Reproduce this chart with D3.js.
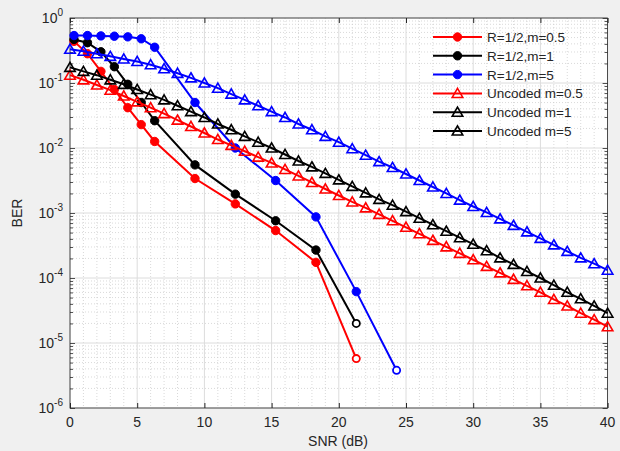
<!DOCTYPE html>
<html><head><meta charset="utf-8">
<script src="https://cdn.jsdelivr.net/npm/d3@7"></script>
<style>
body{margin:0;background:#f0f0f0;}
text{font-family:"Liberation Sans",Arial,Helvetica,sans-serif;}
</style>
</head><body>
<svg id="c" width="620" height="451"></svg>
<script>
// ---------- DATA ----------
const snrCoded = [0.3, 1.3, 2.3, 3.3, 4.3, 5.3, 6.3, 9.3, 12.3, 15.3, 18.3, 21.3];
const snrCodedM5 = [0.3, 1.3, 2.3, 3.3, 4.3, 5.3, 6.3, 9.3, 12.3, 15.3, 18.3, 21.3, 24.3];
const berCodedM05 = [4.37e-1, 2.82e-1, 1.51e-1, 7.94e-2, 4.17e-2, 2.29e-2, 1.26e-2, 3.39e-3, 1.38e-3, 5.37e-4, 1.74e-4, 5.75e-6];
const berCodedM1  = [4.68e-1, 4.17e-1, 3.02e-1, 1.78e-1, 9.55e-2, 5.01e-2, 2.63e-2, 5.50e-3, 1.95e-3, 7.59e-4, 2.69e-4, 2.00e-5];
const berCodedM5  = [5.37e-1, 5.37e-1, 5.30e-1, 5.25e-1, 5.13e-1, 4.79e-1, 3.55e-1, 5.01e-2, 1.00e-2, 3.16e-3, 8.71e-4, 6.17e-5, 3.80e-6];

const snrUncoded = [0,1,2,3,4,5,6,7,8,9,10,11,12,13,14,15,16,17,18,19,20,21,22,23,24,25,26,27,28,29,30,31,32,33,34,35,36,37,38,39,40];
const berUncM05 = [1.32e-1,1.12e-1,9.33e-2,7.76e-2,6.31e-2,5.13e-2,4.17e-2,3.39e-2,2.69e-2,2.14e-2,1.70e-2,1.35e-2,1.10e-2,8.91e-3,7.24e-3,5.89e-3,4.68e-3,3.72e-3,2.95e-3,2.34e-3,1.86e-3,1.48e-3,1.20e-3,9.55e-4,7.59e-4,6.03e-4,4.79e-4,3.80e-4,3.02e-4,2.40e-4,1.91e-4,1.51e-4,1.20e-4,9.55e-5,7.59e-5,6.03e-5,4.68e-5,3.72e-5,2.88e-5,2.29e-5,1.78e-5];
const berUncM1 = [1.74e-1,1.51e-1,1.32e-1,1.12e-1,9.55e-2,7.94e-2,6.61e-2,5.50e-2,4.47e-2,3.63e-2,2.95e-2,2.34e-2,1.91e-2,1.51e-2,1.23e-2,1.00e-2,7.94e-3,6.31e-3,5.13e-3,4.07e-3,3.24e-3,2.57e-3,2.04e-3,1.62e-3,1.32e-3,1.05e-3,8.32e-4,6.61e-4,5.25e-4,4.17e-4,3.31e-4,2.63e-4,2.04e-4,1.62e-4,1.26e-4,1.00e-4,7.76e-5,6.03e-5,4.79e-5,3.72e-5,2.88e-5];
const berUncM5 = [3.31e-1,3.09e-1,2.82e-1,2.57e-1,2.34e-1,2.14e-1,1.91e-1,1.66e-1,1.41e-1,1.20e-1,1.00e-1,8.32e-2,6.76e-2,5.50e-2,4.47e-2,3.63e-2,2.95e-2,2.34e-2,1.91e-2,1.51e-2,1.23e-2,9.77e-3,7.76e-3,6.17e-3,5.01e-3,3.98e-3,3.16e-3,2.51e-3,2.00e-3,1.58e-3,1.26e-3,1.02e-3,8.13e-4,6.46e-4,5.13e-4,4.07e-4,3.24e-4,2.57e-4,2.04e-4,1.66e-4,1.32e-4];

const xTicks = [0,5,10,15,20,25,30,35,40];
const yTickExps = [0,-1,-2,-3,-4,-5,-6];
const legendLabels = ["R=1/2,m=0.5","R=1/2,m=1","R=1/2,m=5","Uncoded m=0.5","Uncoded m=1","Uncoded m=5"];
const legendColors = ["#ff0000","#000000","#0000ff","#ff0000","#000000","#000000"];
const legendMarkers = ["circle","circle","circle","triangle","triangle","triangle"];

// ---------- CHART ----------
const svg = d3.select("#c");
const L = 70, R = 607.6, T = 18, B = 408;
const x = d3.scaleLinear().domain([0,40]).range([L,R]);
const y = d3.scaleLog().domain([1e-6,1]).range([B,T]);
const axisCol = "#262626";

svg.append("rect").attr("x",0).attr("y",0).attr("width",620).attr("height",451).attr("fill","#f0f0f0");
svg.append("rect").attr("x",L).attr("y",T).attr("width",R-L).attr("height",B-T).attr("fill","#fff");

const g = svg.append("g");
// minor grids
const yMinor = [];
for (let e=-6;e<0;e++) for (let k=2;k<=9;k++) yMinor.push(k*Math.pow(10,e));
const xMinor = d3.range(1,40).filter(v=>v%5!==0);
g.selectAll(".ymin").data(yMinor).join("line")
  .attr("x1",L).attr("x2",R).attr("y1",d=>y(d)).attr("y2",d=>y(d))
  .attr("stroke","#c8c8c8").attr("stroke-width",0.7).attr("stroke-dasharray","1,2");
g.selectAll(".xmin").data(xMinor).join("line")
  .attr("y1",T).attr("y2",B).attr("x1",d=>x(d)).attr("x2",d=>x(d))
  .attr("stroke","#c8c8c8").attr("stroke-width",0.7).attr("stroke-dasharray","1,2");
// major grids
g.selectAll(".ymaj").data(yTickExps).join("line")
  .attr("x1",L).attr("x2",R).attr("y1",d=>y(Math.pow(10,d))).attr("y2",d=>y(Math.pow(10,d)))
  .attr("stroke","#dcdcdc").attr("stroke-width",1);
g.selectAll(".xmaj").data(xTicks).join("line")
  .attr("y1",T).attr("y2",B).attr("x1",d=>x(d)).attr("x2",d=>x(d))
  .attr("stroke","#dcdcdc").attr("stroke-width",1);

// axes via d3 axis (ticks inward)
const xAxisB = d3.axisBottom(x).tickValues(xTicks).tickSize(-5).tickFormat("");
const xAxisT = d3.axisTop(x).tickValues(xTicks).tickSize(-5).tickFormat("");
svg.append("g").attr("transform",`translate(0,${B})`).call(xAxisB).call(s=>{s.select(".domain").remove();s.selectAll("line").attr("stroke",axisCol);});
svg.append("g").attr("transform",`translate(0,${T})`).call(xAxisT).call(s=>{s.select(".domain").remove();s.selectAll("line").attr("stroke",axisCol);});
const yMaj = yTickExps.map(e=>Math.pow(10,e));
const yAxisL = d3.axisLeft(y).tickValues(yMaj).tickSize(-5).tickFormat("");
const yAxisR = d3.axisRight(y).tickValues(yMaj).tickSize(-5).tickFormat("");
const yAxisLm = d3.axisLeft(y).tickValues(yMinor).tickSize(-3).tickFormat("");
const yAxisRm = d3.axisRight(y).tickValues(yMinor).tickSize(-3).tickFormat("");
[[yAxisL,L],[yAxisLm,L],[yAxisR,R],[yAxisRm,R]].forEach(([a,px])=>{
  svg.append("g").attr("transform",`translate(${px},0)`).call(a).call(s=>{s.select(".domain").remove();s.selectAll("line").attr("stroke",axisCol).attr("stroke-width",0.8);});
});
svg.append("rect").attr("x",L).attr("y",T).attr("width",R-L).attr("height",B-T)
  .attr("fill","none").attr("stroke",axisCol).attr("stroke-width",0.8);

// tick labels
svg.selectAll(".xl").data(xTicks).join("text")
  .attr("x",d=>x(d)).attr("y",427).attr("text-anchor","middle")
  .attr("font-size",14).attr("fill",axisCol).text(d=>d);
const yl = svg.selectAll(".yl").data(yTickExps).join("text")
  .attr("x",63).attr("y",d=>y(Math.pow(10,d))+5).attr("text-anchor","end")
  .attr("font-size",14).attr("fill",axisCol);
yl.append("tspan").text("10");
yl.append("tspan").attr("font-size",10).attr("dy",-7).text(d=>d===0?"0":"-"+(-d));

svg.append("text").attr("x",338).attr("y",446).attr("text-anchor","middle")
  .attr("font-size",14).attr("fill",axisCol).text("SNR (dB)");
svg.append("text").attr("transform","translate(22,213) rotate(-90)").attr("text-anchor","middle")
  .attr("font-size",14).attr("fill",axisCol).text("BER");

// series
const series = [
  {xs:snrCoded, ys:berCodedM05, color:"#ff0000", m:"circle"},
  {xs:snrCoded, ys:berCodedM1, color:"#000000", m:"circle"},
  {xs:snrCodedM5, ys:berCodedM5, color:"#0000ff", m:"circle"},
  {xs:snrUncoded, ys:berUncM05, color:"#ff0000", m:"triangle"},
  {xs:snrUncoded, ys:berUncM1, color:"#000000", m:"triangle"},
  {xs:snrUncoded, ys:berUncM5, color:"#0000ff", m:"triangle"}
];
const line = d3.line().x(d=>x(d[0])).y(d=>y(d[1]));
const tri = d3.symbol().type(d3.symbolTriangle).size(48);
function drawMarker(sel, m, color, isLast){
  if (m==="circle"){
    sel.append("circle").attr("r",isLast?3.6:4.2)
      .attr("fill",isLast?"#fff":color).attr("stroke",color).attr("stroke-width",isLast?1.8:1);
  } else {
    sel.append("path").attr("d",tri()).attr("transform","translate(0,1)")
      .attr("fill","none").attr("stroke",color).attr("stroke-width",1.6);
  }
}
series.forEach(s=>{
  const pts = s.xs.map((v,i)=>[v,s.ys[i]]);
  svg.append("path").datum(pts).attr("d",line).attr("fill","none")
    .attr("stroke",s.color).attr("stroke-width",2);
  const mg = svg.append("g");
  pts.forEach((p,i)=>{
    const gg = mg.append("g").attr("transform",`translate(${x(p[0])},${y(p[1])})`);
    drawMarker(gg, s.m, s.color, s.m==="circle" && i===pts.length-1);
  });
});

// legend
const lg = svg.append("g");
legendLabels.forEach((lab,i)=>{
  const cy = 37 + i*18.8;
  const c = legendColors[i];
  lg.append("line").attr("x1",433).attr("x2",482).attr("y1",cy).attr("y2",cy)
    .attr("stroke",c).attr("stroke-width",2);
  const gg = lg.append("g").attr("transform",`translate(457.5,${cy})`);
  drawMarker(gg, legendMarkers[i], c, false);
  lg.append("text").attr("x",487).attr("y",cy+5).attr("font-size",13.5)
    .attr("fill",axisCol).text(lab);
});
</script>
</body></html>
